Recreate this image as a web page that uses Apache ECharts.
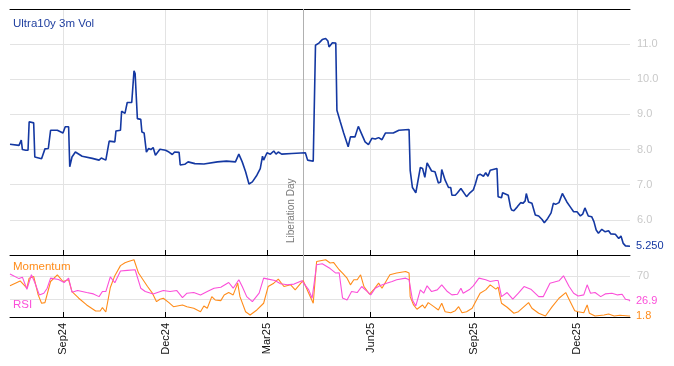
<!DOCTYPE html>
<html><head><meta charset="utf-8">
<script src="https://cdn.jsdelivr.net/npm/echarts@6/dist/echarts.min.js"></script>
<style>html,body{margin:0;padding:0;background:#fff}#c{width:674px;height:366px}</style>
</head><body><div id="c"></div>
<script>
// ---------- data ----------
const startDate = '2024-07-16', endDate = '2026-01-17';
const tickMonths = [3, 6, 9, 12];
const volTicks = [6, 7, 8, 9, 10, 11];
const oscTicks = [70];
const oscGuides = [30, 70];
const eventDate = '2025-04-02', eventName = 'Liberation Day';
const volTitle = 'Ultra10y 3m Vol', momName = 'Momentum', rsiName = 'RSI';

const volDates = ['2024-07-16','2024-07-24','2024-07-26','2024-07-27','2024-07-30','2024-08-01','2024-08-02','2024-08-06','2024-08-07','2024-08-13','2024-08-16','2024-08-19','2024-08-21','2024-08-22','2024-08-27','2024-09-01','2024-09-03','2024-09-06','2024-09-07','2024-09-09','2024-09-12','2024-09-18','2024-09-27','2024-10-03','2024-10-05','2024-10-09','2024-10-12','2024-10-17','2024-10-18','2024-10-22','2024-10-23','2024-10-26','2024-10-28','2024-11-01','2024-11-03','2024-11-04','2024-11-06','2024-11-09','2024-11-10','2024-11-12','2024-11-14','2024-11-16','2024-11-18','2024-11-20','2024-11-22','2024-11-26','2024-12-01','2024-12-04','2024-12-05','2024-12-07','2024-12-09','2024-12-13','2024-12-14','2024-12-18','2024-12-21','2024-12-27','2025-01-04','2025-01-16','2025-01-24','2025-02-01','2025-02-04','2025-02-07','2025-02-10','2025-02-13','2025-02-16','2025-02-20','2025-02-23','2025-02-25','2025-02-26','2025-03-01','2025-03-04','2025-03-07','2025-03-09','2025-03-11','2025-03-14','2025-03-23','2025-04-04','2025-04-06','2025-04-11','2025-04-13','2025-04-16','2025-04-19','2025-04-22','2025-04-24','2025-04-25','2025-04-28','2025-05-01','2025-05-02','2025-05-05','2025-05-08','2025-05-09','2025-05-12','2025-05-14','2025-05-18','2025-05-21','2025-05-24','2025-05-27','2025-05-30','2025-06-02','2025-06-05','2025-06-08','2025-06-11','2025-06-14','2025-06-21','2025-06-26','2025-07-05','2025-07-06','2025-07-08','2025-07-11','2025-07-15','2025-07-17','2025-07-19','2025-07-21','2025-07-22','2025-07-25','2025-07-28','2025-07-31','2025-08-02','2025-08-03','2025-08-06','2025-08-09','2025-08-11','2025-08-12','2025-08-15','2025-08-17','2025-08-20','2025-08-21','2025-08-25','2025-08-28','2025-08-31','2025-09-02','2025-09-04','2025-09-06','2025-09-09','2025-09-11','2025-09-13','2025-09-15','2025-09-21','2025-09-22','2025-09-25','2025-09-26','2025-09-29','2025-10-01','2025-10-03','2025-10-04','2025-10-06','2025-10-09','2025-10-12','2025-10-14','2025-10-16','2025-10-17','2025-10-19','2025-10-22','2025-10-25','2025-10-28','2025-10-31','2025-11-02','2025-11-05','2025-11-08','2025-11-10','2025-11-12','2025-11-15','2025-11-18','2025-11-19','2025-11-22','2025-11-25','2025-11-28','2025-12-01','2025-12-04','2025-12-06','2025-12-08','2025-12-11','2025-12-14','2025-12-16','2025-12-18','2025-12-20','2025-12-23','2025-12-26','2025-12-29','2025-12-31','2026-01-04','2026-01-07','2026-01-09','2026-01-11','2026-01-13','2026-01-17'];
const volValues = [8.15,8.12,8.27,8.00,7.98,7.98,8.79,8.76,7.79,7.74,8.02,8.03,8.55,8.52,8.55,8.47,8.65,8.65,7.51,7.79,7.93,7.81,7.75,7.70,7.76,7.70,8.24,8.22,8.53,8.55,9.09,9.03,9.34,9.34,10.24,10.16,8.88,8.86,8.50,8.47,7.93,8.03,8.00,8.06,7.84,8.01,7.98,7.93,7.98,7.86,7.93,7.92,7.56,7.58,7.65,7.60,7.59,7.65,7.67,7.65,7.87,7.65,7.37,7.02,7.08,7.27,7.46,7.81,7.70,7.91,7.87,7.96,7.87,7.93,7.87,7.89,7.91,7.70,7.67,10.97,11.03,11.13,11.16,11.09,10.92,11.04,11.03,9.12,8.79,8.47,8.44,8.08,8.36,8.36,8.66,8.44,8.22,8.14,8.32,8.30,8.34,8.28,8.47,8.47,8.55,8.57,7.41,6.92,6.77,7.49,7.46,7.21,7.62,7.59,7.39,7.37,7.05,7.08,7.43,7.13,6.92,6.92,6.70,6.70,6.77,6.89,6.85,6.66,6.77,6.85,7.04,7.27,7.30,7.24,7.34,7.24,7.41,7.46,6.66,6.63,6.77,6.73,6.70,6.36,6.28,6.26,6.37,6.49,6.47,6.54,6.75,6.51,6.47,6.14,6.11,6.01,5.92,6.04,6.20,6.47,6.44,6.49,6.75,6.75,6.51,6.37,6.23,6.23,6.11,6.16,6.34,6.11,6.09,5.95,5.71,5.62,5.73,5.66,5.69,5.60,5.59,5.47,5.54,5.33,5.26,5.25];

const momDates = ['2024-07-16','2024-07-25','2024-07-31','2024-08-02','2024-08-06','2024-08-10','2024-08-13','2024-08-16','2024-08-21','2024-08-27','2024-09-01','2024-09-06','2024-09-09','2024-09-15','2024-09-22','2024-09-30','2024-10-04','2024-10-06','2024-10-09','2024-10-13','2024-10-17','2024-10-22','2024-10-26','2024-10-29','2024-11-03','2024-11-07','2024-11-11','2024-11-15','2024-11-19','2024-11-23','2024-11-26','2024-11-29','2024-12-04','2024-12-08','2024-12-16','2024-12-20','2024-12-26','2025-01-01','2025-01-04','2025-01-07','2025-01-11','2025-01-14','2025-01-19','2025-01-22','2025-01-26','2025-01-30','2025-02-03','2025-02-05','2025-02-10','2025-02-14','2025-02-20','2025-02-26','2025-03-02','2025-03-07','2025-03-11','2025-03-16','2025-03-22','2025-03-26','2025-03-31','2025-04-02','2025-04-07','2025-04-11','2025-04-14','2025-04-22','2025-04-26','2025-04-29','2025-05-04','2025-05-07','2025-05-11','2025-05-14','2025-05-17','2025-05-20','2025-05-23','2025-05-26','2025-05-31','2025-06-04','2025-06-08','2025-06-11','2025-06-15','2025-06-18','2025-06-24','2025-07-02','2025-07-05','2025-07-06','2025-07-09','2025-07-12','2025-07-17','2025-07-19','2025-07-22','2025-07-27','2025-07-31','2025-08-03','2025-08-06','2025-08-11','2025-08-15','2025-08-18','2025-08-21','2025-08-25','2025-08-30','2025-09-02','2025-09-06','2025-09-11','2025-09-15','2025-09-20','2025-09-22','2025-09-25','2025-09-30','2025-10-06','2025-10-10','2025-10-15','2025-10-19','2025-10-22','2025-10-28','2025-11-03','2025-11-09','2025-11-15','2025-11-21','2025-11-25','2025-11-29','2025-12-02','2025-12-07','2025-12-10','2025-12-12','2025-12-17','2025-12-25','2025-12-29','2026-01-03','2026-01-08','2026-01-16','2026-01-17'];
const momValues = [53,61,48.8,65.8,68.6,37.4,23.3,24.3,60.1,71.5,60.1,63.0,43.1,31.8,20.4,10.2,10.2,16,8.5,50,70,87,92,94,97,74.4,63.0,51.6,41.4,26.0,30.1,31.8,24.3,17.5,20.4,17.5,14.8,9.0,18.7,14.8,34.5,28.9,27.7,37.4,41.4,37.4,57.3,34.5,9.0,3.4,11.9,23.3,51.6,57.3,64.2,51.6,54.5,45.9,57.3,61.8,40.3,23.3,94.1,97.0,91.4,92.4,80.0,74.4,65.8,54.5,63.0,63.0,71.5,51.6,38.6,47.1,57.3,48.8,61.8,71.5,74.4,77.1,74.4,34.5,20.4,13.1,20.4,14.8,24.3,17.5,11.9,23.3,9.0,7.3,10.7,17.5,7.3,9.0,14.8,26.0,40.3,45.9,54.5,47.1,50.5,23.3,16.5,6.3,9.0,17.5,24.3,14.8,6.3,1.7,17.5,31.8,41.4,26.0,10.7,9.0,7.3,20.4,6.3,1.7,3.4,5.1,1.7,2.9,1.8,1.8];

const rsiDates = ['2024-07-16','2024-07-24','2024-07-27','2024-07-31','2024-08-04','2024-08-07','2024-08-11','2024-08-15','2024-08-18','2024-08-21','2024-08-28','2024-09-02','2024-09-06','2024-09-09','2024-09-14','2024-09-22','2024-09-28','2024-10-03','2024-10-06','2024-10-09','2024-10-13','2024-10-17','2024-10-22','2024-10-28','2024-11-04','2024-11-09','2024-11-13','2024-11-20','2024-11-29','2024-12-05','2024-12-11','2024-12-16','2024-12-20','2024-12-26','2025-01-01','2025-01-07','2025-01-13','2025-01-19','2025-01-26','2025-01-30','2025-02-04','2025-02-07','2025-02-11','2025-02-16','2025-02-22','2025-02-26','2025-03-02','2025-03-08','2025-03-13','2025-03-19','2025-03-25','2025-04-01','2025-04-07','2025-04-10','2025-04-14','2025-04-19','2025-04-26','2025-05-01','2025-05-04','2025-05-07','2025-05-11','2025-05-15','2025-05-20','2025-05-24','2025-05-29','2025-06-01','2025-06-05','2025-06-09','2025-06-15','2025-06-20','2025-06-24','2025-07-02','2025-07-05','2025-07-08','2025-07-11','2025-07-15','2025-07-18','2025-07-21','2025-07-25','2025-07-30','2025-08-03','2025-08-08','2025-08-12','2025-08-17','2025-08-20','2025-08-22','2025-08-28','2025-08-31','2025-09-05','2025-09-11','2025-09-15','2025-09-20','2025-09-22','2025-09-25','2025-09-30','2025-10-05','2025-10-10','2025-10-15','2025-10-21','2025-10-28','2025-11-01','2025-11-07','2025-11-15','2025-11-19','2025-11-24','2025-11-28','2025-12-02','2025-12-07','2025-12-10','2025-12-13','2025-12-17','2025-12-22','2025-12-26','2026-01-01','2026-01-06','2026-01-10','2026-01-13','2026-01-16','2026-01-17'];
const rsiValues = [73,65,67.5,47,71.5,58.4,37.4,40.3,48.8,65.8,63.5,58.4,65.8,42,44.8,41.4,39.1,34.5,43.1,43.1,68,58,78,79,80,48.8,43.1,39.1,44.8,43.1,44.8,32.8,40.3,41.4,37.4,43.1,48.8,50.5,58.4,48.8,63.0,51.6,34.5,26.0,40.3,65.8,64.2,61.8,56.2,54.5,55.7,61.3,45.9,31.8,88.5,90.2,82,74.4,75,32,28.9,43.1,41.4,51.6,43.1,37.4,48.8,52.8,57.3,60.1,63.0,65.8,63.0,28.9,18.7,45.9,40.3,52.8,43.1,45.9,54.5,43.1,37.4,38.6,48.8,40.3,47.1,52.8,65.8,63.0,60.1,61.8,61.8,34.5,41.4,30.1,40.3,51.6,47.1,34.5,34.5,57.3,61.3,69.8,51.6,40.3,35.7,37.4,54.5,40.3,41.4,34.5,39.1,40.3,37.4,38.6,30.1,28.9,26.9];

// ---------- build ----------
const MONTHS = ['Jan','Feb','Mar','Apr','May','Jun','Jul','Aug','Sep','Oct','Nov','Dec'];
const categories = [];
for (let t = Date.parse(startDate + 'T00:00:00Z'); t <= Date.parse(endDate + 'T00:00:00Z'); t += 86400000) {
  categories.push(new Date(t).toISOString().slice(0, 10));
}
const isTick = (i, v) => v.slice(8) === '01' && tickMonths.indexOf(+v.slice(5, 7)) >= 0;
const fmtTick = v => MONTHS[+v.slice(5, 7) - 1] + v.slice(2, 4);
const zip = (a, b) => a.map((d, i) => [d, b[i]]);

const FONT = "'Liberation Sans', Arial, sans-serif";
const C_VOL = '#1438a2', C_MOM = '#ff8c1a', C_RSI = '#fb4fd9';
const C_GRID = '#e3e3e3', C_LAB = '#c9c9c9';

const chart = echarts.init(document.getElementById('c'), null, {renderer: 'canvas'});
const xBase = {
  type: 'category', data: categories, boundaryGap: false,
  axisLine: {show: true, lineStyle: {color: '#000', width: 1}},
  axisTick: {show: true, inside: true, length: 5, interval: isTick, lineStyle: {color: '#000'}},
  axisLabel: {show: false},
  splitLine: {show: true, interval: isTick, lineStyle: {color: C_GRID, width: 1}}
};
chart.setOption({
  animation: false,
  grid: [
    {left: 10, right: 44, top: 9, height: 246},
    {left: 10, right: 44, top: 255, height: 62}
  ],
  xAxis: [
    Object.assign({}, xBase, {gridIndex: 0, position: 'bottom'}),
    Object.assign({}, xBase, {gridIndex: 0, position: 'top', axisTick: {show: false}, splitLine: {show: false}}),
    Object.assign({}, xBase, {gridIndex: 1, position: 'bottom',
      axisLabel: {show: true, interval: isTick, rotate: 90, formatter: fmtTick, color: '#111', fontSize: 11, fontFamily: FONT, margin: 6}})
  ],
  yAxis: [
    {type: 'value', gridIndex: 0, position: 'right', min: 5, max: 12, interval: 1,
     axisLine: {show: false}, axisTick: {show: false},
     axisLabel: {color: C_LAB, fontSize: 11, fontFamily: FONT, margin: 7,
       formatter: v => volTicks.indexOf(v) >= 0 ? v.toFixed(1) : ''},
     splitLine: {show: true, lineStyle: {color: C_GRID, width: 1}}},
    {type: 'value', gridIndex: 1, position: 'right', min: 0, max: 105, interval: 10,
     axisLine: {show: false}, axisTick: {show: false},
     axisLabel: {color: C_LAB, fontSize: 11, fontFamily: FONT, margin: 7,
       formatter: v => oscTicks.indexOf(v) >= 0 ? String(v) : ''},
     splitLine: {show: false}}
  ],
  series: [
    {name: volTitle, type: 'line', xAxisIndex: 0, yAxisIndex: 0, data: zip(volDates, volValues),
     showSymbol: false, z: 3, lineStyle: {color: C_VOL, width: 1.6}, itemStyle: {color: C_VOL},
     endLabel: {show: true, formatter: p => p.value[1].toFixed(3), color: C_VOL, fontSize: 11, fontFamily: FONT, distance: 6}},
    {name: momName, type: 'line', xAxisIndex: 2, yAxisIndex: 1, data: zip(momDates, momValues),
     showSymbol: false, z: 3, lineStyle: {color: C_MOM, width: 1.1}, itemStyle: {color: C_MOM},
     endLabel: {show: true, formatter: p => p.value[1].toFixed(1), color: C_MOM, fontSize: 11, fontFamily: FONT, distance: 6}},
    {name: rsiName, type: 'line', xAxisIndex: 2, yAxisIndex: 1, data: zip(rsiDates, rsiValues),
     showSymbol: false, z: 3, lineStyle: {color: C_RSI, width: 1.1}, itemStyle: {color: C_RSI},
     endLabel: {show: true, formatter: p => p.value[1].toFixed(1), color: C_RSI, fontSize: 11, fontFamily: FONT, distance: 6}}
  ]
});

// overlays positioned through the chart's own scales
const crisp = v => Math.round(v) + 0.5;
const ex = crisp(chart.convertToPixel({xAxisIndex: 0}, eventDate));
const yTop = chart.convertToPixel({yAxisIndex: 0}, 12);
const yVolBottom = chart.convertToPixel({yAxisIndex: 0}, 5);
const yOscBottom = chart.convertToPixel({yAxisIndex: 1}, 0);
const x0 = chart.convertToPixel({xAxisIndex: 2}, startDate);
const x1 = chart.convertToPixel({xAxisIndex: 2}, endDate);
const graphics = [];
oscGuides.forEach(v => {
  const y = crisp(chart.convertToPixel({yAxisIndex: 1}, v));
  graphics.push({type: 'line', z: 0, silent: true, shape: {x1: x0, y1: y, x2: x1, y2: y}, style: {stroke: C_GRID, lineWidth: 1}});
});
graphics.push({type: 'line', z: 1, silent: true, shape: {x1: ex, y1: yTop, x2: ex, y2: yOscBottom}, style: {stroke: '#b0b0b0', lineWidth: 1}});
graphics.push({type: 'text', z: 5, silent: true, x: ex - 12, y: yVolBottom - 12, rotation: Math.PI / 2,
  style: {text: eventName, fill: '#7a7a7a', fontSize: 10, fontFamily: FONT, align: 'left', verticalAlign: 'middle'}});
graphics.push({type: 'text', z: 5, left: 13, top: 18, style: {text: volTitle, fill: '#1f3f9f', fontSize: 11.5, fontFamily: FONT}});
graphics.push({type: 'text', z: 5, left: 13, top: 261, style: {text: momName, fill: C_MOM, fontSize: 11.5, fontFamily: FONT}});
graphics.push({type: 'text', z: 5, left: 13, top: 299, style: {text: rsiName, fill: C_RSI, fontSize: 11.5, fontFamily: FONT}});
chart.setOption({graphic: graphics});
</script>
</body></html>
